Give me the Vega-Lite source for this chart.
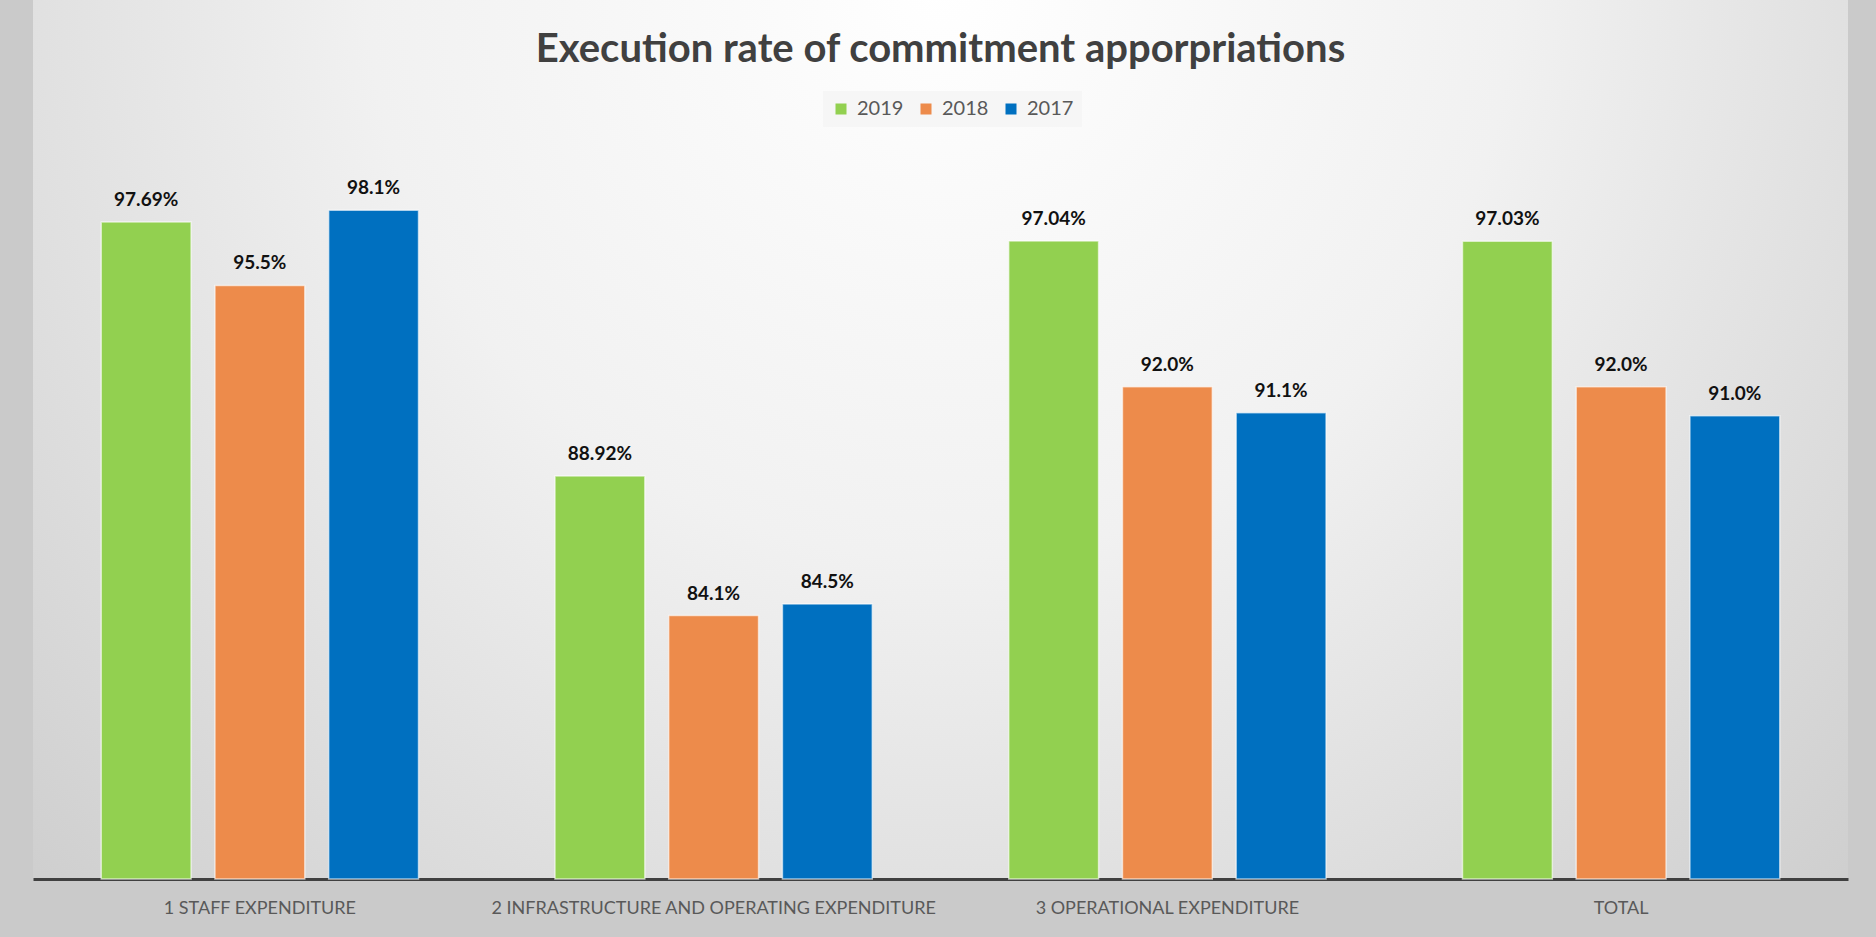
{
  "$schema": "https://vega.github.io/schema/vega-lite/v6.json",
  "width": 1815,
  "height": 879,
  "autosize": {"type": "none"},
  "padding": {"left": 33, "top": 0, "right": 28, "bottom": 58},
  "background": "#cacaca",
  "title": {
    "text": "Execution rate of commitment apporpriations",
    "anchor": "middle",
    "frame": "group",
    "baseline": "alphabetic",
    "offset": -102,
    "font": "Lato",
    "fontSize": 40,
    "fontWeight": "bold",
    "color": "#404040"
  },
  "data": {
    "values": [
      {"category": "1 STAFF EXPENDITURE", "year": "2019", "rate": 97.69, "label": "97.69%"},
      {"category": "1 STAFF EXPENDITURE", "year": "2018", "rate": 95.5, "label": "95.5%"},
      {"category": "1 STAFF EXPENDITURE", "year": "2017", "rate": 98.1, "label": "98.1%"},
      {"category": "2 INFRASTRUCTURE AND OPERATING EXPENDITURE", "year": "2019", "rate": 88.92, "label": "88.92%"},
      {"category": "2 INFRASTRUCTURE AND OPERATING EXPENDITURE", "year": "2018", "rate": 84.1, "label": "84.1%"},
      {"category": "2 INFRASTRUCTURE AND OPERATING EXPENDITURE", "year": "2017", "rate": 84.5, "label": "84.5%"},
      {"category": "3 OPERATIONAL EXPENDITURE", "year": "2019", "rate": 97.04, "label": "97.04%"},
      {"category": "3 OPERATIONAL EXPENDITURE", "year": "2018", "rate": 92.0, "label": "92.0%"},
      {"category": "3 OPERATIONAL EXPENDITURE", "year": "2017", "rate": 91.1, "label": "91.1%"},
      {"category": "TOTAL", "year": "2019", "rate": 97.03, "label": "97.03%"},
      {"category": "TOTAL", "year": "2018", "rate": 92.0, "label": "92.0%"},
      {"category": "TOTAL", "year": "2017", "rate": 91.0, "label": "91.0%"}
    ]
  },
  "encoding": {
    "x": {
      "field": "category",
      "type": "nominal",
      "sort": ["1 STAFF EXPENDITURE", "2 INFRASTRUCTURE AND OPERATING EXPENDITURE", "3 OPERATIONAL EXPENDITURE", "TOTAL"],
      "scale": {"paddingInner": 0, "paddingOuter": 0},
      "axis": {
        "title": null,
        "labelAngle": 0,
        "ticks": false,
        "domainColor": "#404040",
        "domainWidth": 3,
        "labelFont": "Lato",
        "labelFontSize": 18,
        "labelColor": "#595959",
        "labelPadding": 20,
        "labelLimit": 600
      }
    },
    "xOffset": {
      "field": "year",
      "type": "nominal",
      "sort": ["2019", "2018", "2017"],
      "scale": {"paddingInner": 0.21, "paddingOuter": 0.6}
    },
    "y": {
      "field": "rate",
      "type": "quantitative",
      "scale": {"domain": [75, 105.36], "zero": false, "nice": false},
      "axis": null
    }
  },
  "layer": [
    {
      "mark": {"type": "bar", "stroke": "#ffffff", "strokeWidth": 1.5, "strokeOpacity": 0.6},
      "encoding": {
        "y2": {"datum": 75},
        "color": {
          "field": "year",
          "type": "nominal",
          "scale": {"domain": ["2019", "2018", "2017"], "range": ["#92D050", "#ED8B4B", "#0070C0"]},
          "legend": {
            "orient": "none",
            "legendX": 790,
            "legendY": 91,
            "direction": "horizontal",
            "title": null,
            "symbolType": "square",
            "symbolSize": 121,
            "symbolStrokeWidth": 0,
            "labelFont": "Lato",
            "labelFontSize": 20,
            "labelColor": "#595959",
            "labelOffset": 6,
            "columnPadding": 12,
            "fillColor": "#f6f6f6",
            "padding": 8
          }
        }
      }
    },
    {
      "mark": {
        "type": "text",
        "dy": -16,
        "baseline": "alphabetic",
        "font": "Lato",
        "fontSize": 19,
        "fontWeight": "bold",
        "color": "#111111"
      },
      "encoding": {"text": {"field": "label"}}
    }
  ],
  "config": {
    "view": {
      "stroke": null,
      "fill": {
        "gradient": "radial",
        "x1": 0.5, "y1": 0.25, "r1": 0,
        "x2": 0.5, "y2": 0.25, "r2": 0.9,
        "stops": [
          {"offset": 0, "color": "#ffffff"},
          {"offset": 0.35, "color": "#f1f1f1"},
          {"offset": 1, "color": "#bdbdbd"}
        ]
      }
    }
  }
}
